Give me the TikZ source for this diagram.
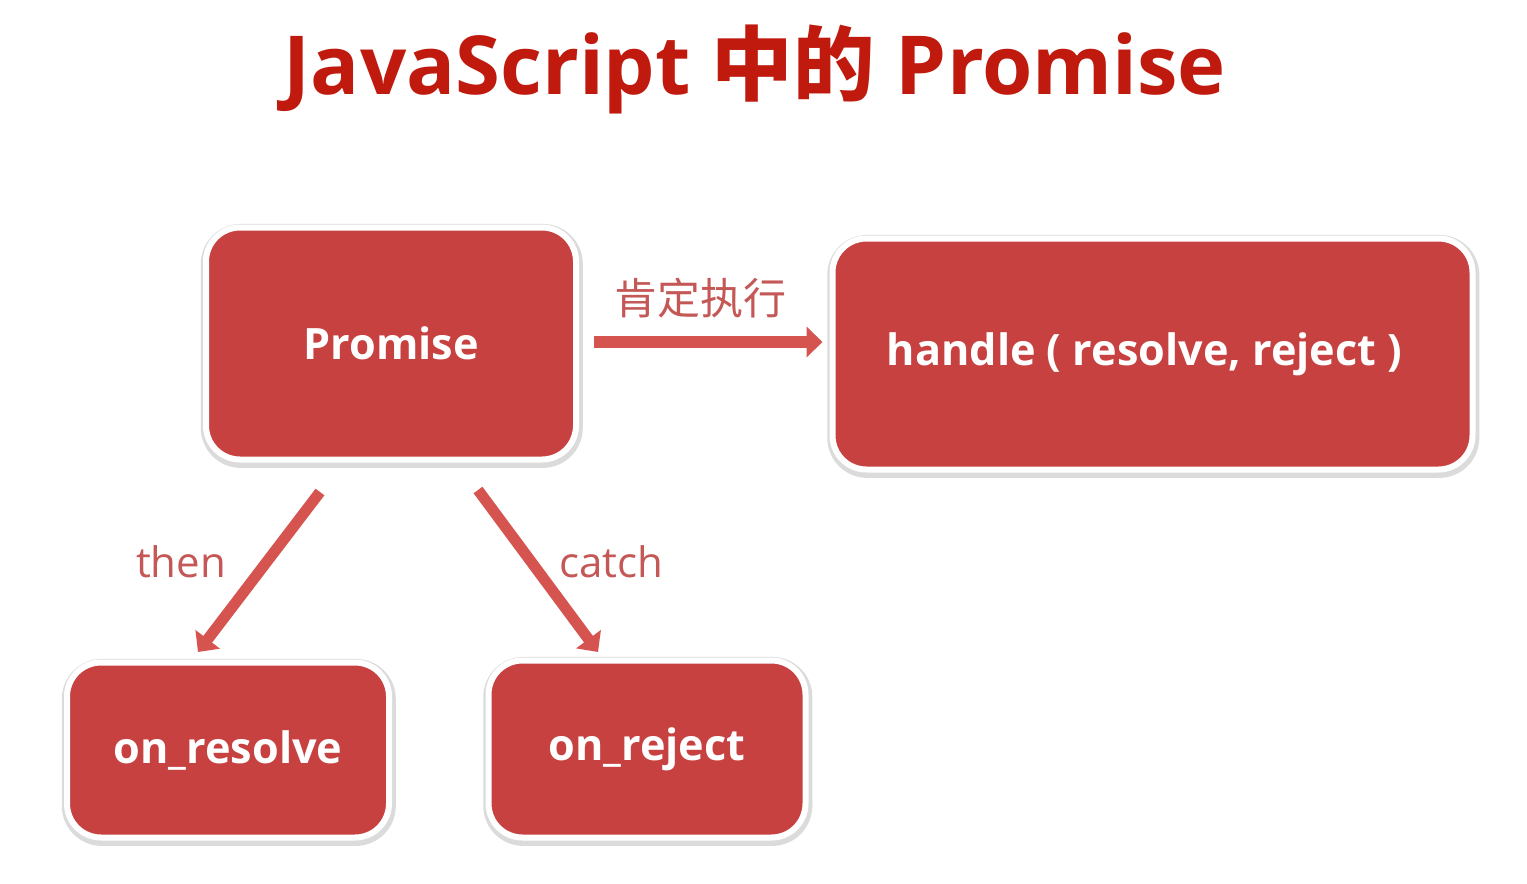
\documentclass[tikz,border=0pt]{standalone}
\usepackage{fontspec}
\setmainfont{Open Sans}
\newfontfamily\cjk{Noto Sans CJK SC}
\usetikzlibrary{arrows.meta}
\definecolor{boxred}{RGB}{200,65,65}
\definecolor{arrred}{RGB}{213,84,80}
\definecolor{lblred}{RGB}{196,88,86}
\definecolor{titred}{RGB}{192,26,14}
\tikzset{
  mybox/.style={fill=boxred, draw=white, line width=3pt, rounded corners=17pt,
    text=white, font=\bfseries\fontsize{21.6}{26}\selectfont, align=center,
    preaction={draw=black!14, line width=6pt, transform canvas={shift={(0.4pt,-1.2pt)}}}},
  myarrow/.style={draw=arrred, line width=5.5pt, -{Triangle[length=8pt,width=15pt]}},
  mylabel/.style={text=lblred, font=\fontsize{21}{25}\selectfont},
}
\begin{document}
\begin{tikzpicture}[x=0.5pt,y=-0.5pt]
\useasboundingbox (0,0) rectangle (1527,884);
\node[anchor=base, text=titred, font=\bfseries\fontsize{40.7}{48}\selectfont] (title) at (755,94)
  {JavaScript {\cjk\bfseries 中的} Promise};
\node[mybox, minimum width=185pt, minimum height=116pt] (P) at (391,343.5) {Promise};
\node[mybox, minimum width=320pt, minimum height=115.5pt] (H) at (1152.5,354) {handle ( resolve, reject )\hspace{8pt}};
\node[mybox, minimum width=161pt, minimum height=87.5pt] (R) at (228,750) {on\_resolve};
\node[mybox, minimum width=158.5pt, minimum height=88.5pt] (J) at (647,749) {on\_reject};
\coordinate (ts) at (320,492);
\coordinate (te) at (198,652);
\coordinate (cs) at (478,490);
\coordinate (ce) at (598,652);
\draw[myarrow, line width=6pt, shorten <=7.5pt, shorten >=3.5pt] (P.east |- 0,342) -- (H.west |- 0,342);
\draw[myarrow] (ts) -- (te);
\draw[myarrow] (cs) -- (ce);
\node[mylabel, font=\cjk\fontsize{21.5}{25}\selectfont] (l1) at (700,298) {肯定执行};
\node[mylabel] (l2) at (181,562) {then};
\node[mylabel] (l3) at (611,562) {catch};
\end{tikzpicture}
\end{document}
